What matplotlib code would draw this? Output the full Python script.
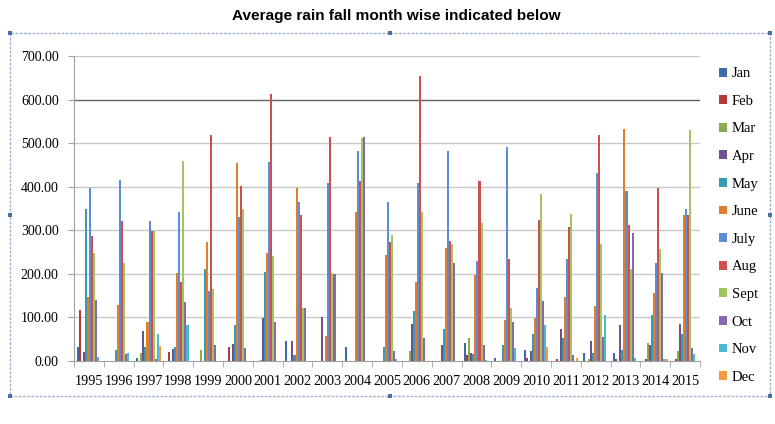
# Average rainfall per month, 1995-2015, grouped bar chart (Excel style)
import numpy as np
import matplotlib.pyplot as plt
import matplotlib
from matplotlib.patches import Patch, Rectangle

matplotlib.rcParams['font.family'] = 'serif'
matplotlib.rcParams['font.serif'] = ['Liberation Serif', 'DejaVu Serif']

years = [str(y) for y in range(1995, 2016)]
months = ['Jan', 'Feb', 'Mar', 'Apr', 'May', 'June',
          'July', 'Aug', 'Sept', 'Oct', 'Nov', 'Dec']

# rainfall per year, values in month order Jan..Dec
r1995 = [33, 117, 0, 20, 348, 147, 398, 287, 247, 140, 10, 0]
r1996 = [0, 0, 0, 0, 25, 128, 415, 321, 224, 15, 18, 0]
r1997 = [6, 0, 18, 69, 32, 90, 321, 299, 299, 4, 63, 34]
r1998 = [0, 20, 0, 28, 32, 201, 341, 181, 460, 136, 83, 0]
r1999 = [0, 0, 25, 0, 212, 272, 160, 519, 165, 37, 0, 0]
r2000 = [0, 33, 0, 40, 83, 454, 331, 402, 350, 29, 0, 0]
r2001 = [0, 0, 2, 99, 205, 247, 457, 613, 241, 90, 0, 0]
r2002 = [47, 0, 0, 47, 14, 396, 364, 334, 121, 121, 0, 0]
r2003 = [0, 0, 0, 102, 0, 58, 408, 515, 201, 199, 0, 0]
r2004 = [33, 0, 0, 0, 0, 341, 482, 412, 512, 515, 0, 0]
r2005 = [0, 0, 0, 0, 31, 243, 364, 272, 289, 23, 4, 0]
r2006 = [0, 0, 23, 84, 115, 182, 408, 653, 343, 52, 0, 0]
r2007 = [0, 0, 0, 37, 73, 260, 482, 276, 269, 224, 0, 0]
r2008 = [41, 14, 52, 18, 16, 197, 230, 412, 316, 37, 2, 0]
r2009 = [8, 0, 0, 0, 37, 94, 492, 234, 122, 90, 29, 0]
r2010 = [25, 8, 0, 24, 63, 99, 167, 324, 383, 138, 83, 31]
r2011 = [0, 4, 0, 73, 52, 148, 234, 308, 337, 14, 0, 8]
r2012 = [18, 0, 4, 46, 18, 127, 431, 519, 269, 55, 105, 0]
r2013 = [18, 4, 0, 83, 25, 532, 390, 311, 211, 293, 8, 0]
r2014 = [0, 4, 42, 37, 106, 155, 224, 398, 257, 201, 4, 4]
r2015 = [0, 4, 23, 84, 63, 334, 348, 334, 530, 29, 15, 0]

rain = np.array([r1995, r1996, r1997, r1998, r1999, r2000, r2001, r2002,
                 r2003, r2004, r2005, r2006, r2007, r2008, r2009, r2010,
                 r2011, r2012, r2013, r2014, r2015], dtype=float)

COLORS = ['#3D6BA8', '#B23A38', '#8BAA4B', '#6E5290', '#3A9BB0', '#E07E2E',
          '#5E8ED2', '#CF4F4C', '#A0C660', '#8568AE', '#4CB8D2', '#F9993F']


def main():
    fig = plt.figure(figsize=(7.75, 4.24), dpi=100)
    ax = fig.add_axes([74 / 775, 63 / 424, 626 / 775, 305 / 424])

    x = np.arange(len(years))
    n = len(months)
    w = 0.82 / n
    for i, m in enumerate(months):
        ax.bar(x - 0.41 + w * (i + 0.5), rain[:, i], width=w,
               color=COLORS[i], label=m, linewidth=0, zorder=3)

    ax.set_xlim(-0.5, len(years) - 0.5)
    ax.set_ylim(0, 700)
    ax.set_yticks(np.arange(0, 701, 100))
    ax.set_yticklabels([f"{v:.2f}" for v in range(0, 701, 100)])
    ax.set_xticks(x)
    ax.set_xticklabels(years)
    ax.set_xticks(np.arange(-0.5, len(years), 1), minor=True)
    ax.tick_params(axis='x', which='major', length=0, pad=10, labelsize=10.2)
    ax.tick_params(axis='x', which='minor', length=4, color='#a0a0a0')
    ax.tick_params(axis='y', length=4, color='#a0a0a0', pad=7, labelsize=10)

    for v in range(100, 701, 100):
        c = '#606060' if v == 600 else '#c8c8c8'
        ax.axhline(v, color=c, linewidth=1, zorder=1)

    for s in ['top', 'right']:
        ax.spines[s].set_visible(False)
    ax.spines['left'].set_color('#a0a0a0')
    ax.spines['bottom'].set_color('#a0a0a0')

    fig.text(0.512, 0.962, 'Average rain fall month wise indicated below',
             ha='center', va='center', fontsize=11.1, fontweight='bold',
             family='Liberation Sans')

    # chart area frame with selection handles
    fl, fb, fw, fh = 10 / 775, 28 / 424, 760 / 775, 363 / 424
    fig.patches.append(Rectangle((fl, fb), fw, fh,
                                 transform=fig.transFigure, fill=False,
                                 edgecolor='#9fb2cc', linewidth=1,
                                 linestyle=(0, (2, 1))))
    hx = [fl, fl + fw / 2, fl + fw]
    hy = [fb, fb + fh / 2, fb + fh]
    for px in hx:
        for py in hy:
            if px == hx[1] and py == hy[1]:
                continue
            fig.patches.append(Rectangle((px - 2 / 775, py - 2 / 424),
                                         4 / 775, 4 / 424,
                                         transform=fig.transFigure,
                                         facecolor='#4a6fa5',
                                         edgecolor='none'))

    handles = [Patch(facecolor=c, edgecolor='none') for c in COLORS]
    fig.legend(handles, months, loc='upper left',
               bbox_to_anchor=(712 / 775, 1 - 60 / 424), frameon=False,
               fontsize=10.5, handlelength=0.55, handleheight=0.55,
               handletextpad=0.3, labelspacing=1.0, borderpad=0)

    fig.savefig("out.png", dpi=100)
    plt.close(fig)


if __name__ == "__main__":
    main()
